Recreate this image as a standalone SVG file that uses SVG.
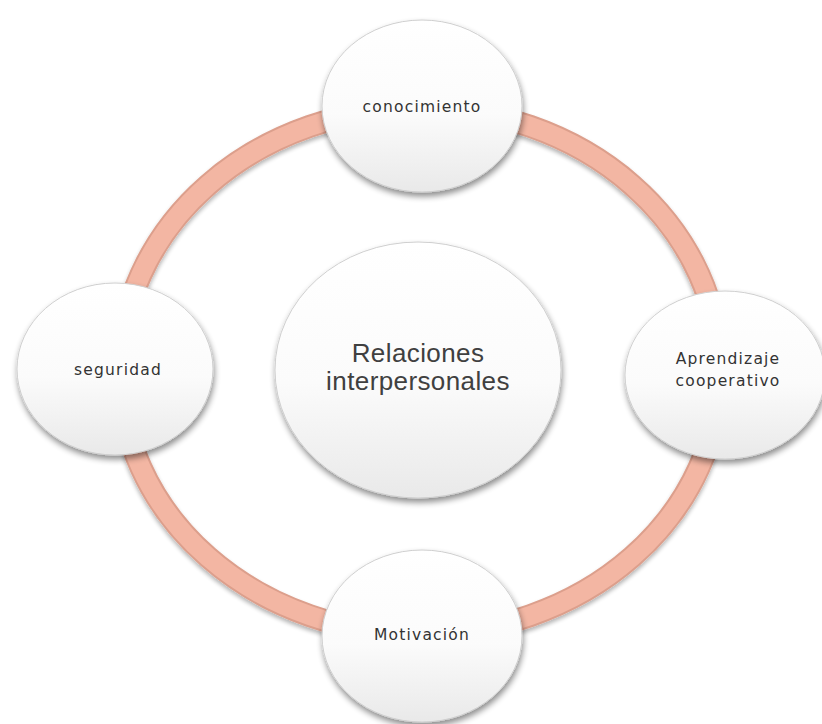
<svg xmlns="http://www.w3.org/2000/svg" width="822" height="724" viewBox="0 0 822 724">
  <defs>
    <linearGradient id="nodeFill" x1="0" y1="0" x2="0" y2="1">
      <stop offset="0" stop-color="#ffffff"/>
      <stop offset="0.55" stop-color="#fbfbfb"/>
      <stop offset="1" stop-color="#e9e9e9"/>
    </linearGradient>
    <filter id="shadow" x="-20%" y="-20%" width="140%" height="150%">
      <feGaussianBlur in="SourceAlpha" stdDeviation="3"/>
      <feOffset dx="1" dy="4" result="b"/>
      <feComponentTransfer><feFuncA type="linear" slope="0.45"/></feComponentTransfer>
      <feMerge><feMergeNode/><feMergeNode in="SourceGraphic"/></feMerge>
    </filter>
    <filter id="ringShadow" x="-10%" y="-10%" width="120%" height="120%">
      <feGaussianBlur in="SourceAlpha" stdDeviation="2"/>
      <feOffset dx="0" dy="3"/>
      <feComponentTransfer><feFuncA type="linear" slope="0.3"/></feComponentTransfer>
      <feMerge><feMergeNode/><feMergeNode in="SourceGraphic"/></feMerge>
    </filter>
  </defs>
  <style>
    .node ellipse { fill: url(#nodeFill); stroke: #cfcfcf; stroke-width: 1; filter: url(#shadow); }
    .lbl { font-family: "DejaVu Sans", Verdana, sans-serif; font-size: 15.5px; letter-spacing: 1.2px; fill: #333333; text-anchor: middle; }
    .big { font-family: "Liberation Sans", Arial, sans-serif; font-size: 26px; letter-spacing: 0.4px; fill: #404040; text-anchor: middle; }
  </style>
  <rect width="822" height="724" fill="#ffffff"/>
  <g id="connectors">
    <ellipse cx="420" cy="371" rx="300" ry="263" fill="none" stroke="#dc9f8c" stroke-width="23" filter="url(#ringShadow)"/>
    <ellipse cx="420" cy="371" rx="300" ry="263" fill="none" stroke="#f3b6a3" stroke-width="19"/>
  </g>
  <g id="center" class="node">
    <ellipse cx="418" cy="370" rx="143" ry="128"/>
    <text class="big" x="418" y="362">Relaciones</text>
    <text class="big" x="418" y="390">interpersonales</text>
  </g>
  <g id="conocimiento" class="node">
    <ellipse cx="422" cy="106" rx="100" ry="86"/>
    <text class="lbl" x="422" y="112">conocimiento</text>
  </g>
  <g id="seguridad" class="node">
    <ellipse cx="115" cy="369" rx="98" ry="86"/>
    <text class="lbl" x="118" y="375">seguridad</text>
  </g>
  <g id="aprendizaje" class="node">
    <ellipse cx="725" cy="375" rx="100" ry="84"/>
    <text class="lbl" x="728" y="364">Aprendizaje</text>
    <text class="lbl" x="728" y="386">cooperativo</text>
  </g>
  <g id="motivacion" class="node">
    <ellipse cx="422" cy="636" rx="100" ry="86"/>
    <text class="lbl" x="422" y="640">Motivación</text>
  </g>
</svg>
